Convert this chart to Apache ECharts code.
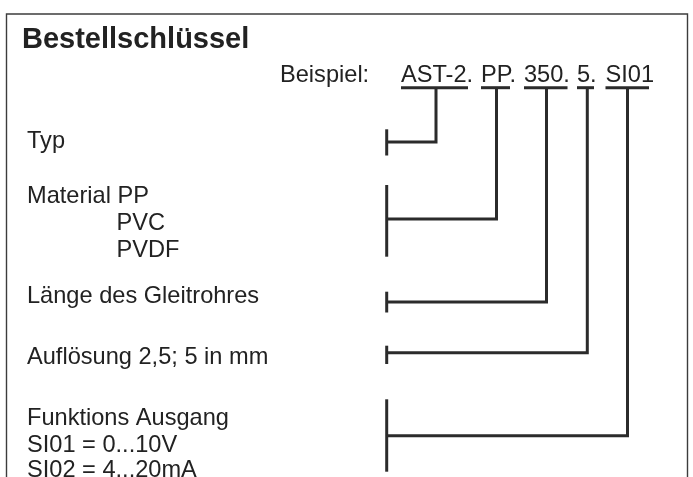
<!DOCTYPE html>
<html><head><meta charset="utf-8">
<script src="https://cdn.jsdelivr.net/npm/echarts@6/dist/echarts.min.js"></script>
<style>html,body{margin:0;padding:0;background:#fff}#c{width:693px;height:477px}</style>
</head><body><div id="c"></div>
<script>
// ---- diagram data (diagram units) ----
const titleText = 'Bestellschlüssel';
const exampleLabel = 'Beispiel:';
const codeParts = ['AST-2.', 'PP.', '350.', '5.', 'SI01'];
const codeStart = [401, 481, 524, 577, 605.5];
const underlineEnd = [468, 510, 567.5, 594, 649];
const connectorX = [436, 496.5, 546.5, 587.3, 627.5];
const rowTexts = [
  ['Typ'],
  ['Material PP', 'PVC', 'PVDF'],
  ['Länge des Gleitrohres'],
  ['Auflösung 2,5; 5 in mm'],
  ['Funktions Ausgang', 'SI01 = 0...10V', 'SI02 = 4...20mA']
];
const rowTextIndent = [[0], [0, 1, 1], [0], [0], [0, 0, 0]];
const rowBaseline = [[149.3], [204.3, 231, 258.3], [303.5], [365], [426, 452.5, 478]];
const bracketTop = [129.3, 185, 291.7, 345.7, 399.3];
const bracketBottom = [155.5, 256.7, 312.5, 364, 471.7];
const bracketLinkY = [142, 219, 302, 352.7, 435.7];

// ---- layout constants ----
const W = 693, H = 477;
const textX = 27, indentX = 116.5;
const bracketX = 386.7, underlineY = 87.7, codeBaseline = 83.3;
const exampleX = 280, titleX = 22, titleBaseline = 49.3;
const FONT = "'Liberation Sans', Arial, Helvetica, sans-serif";
const INK = '#222222', LINE = '#2b2b2b';
const bodySize = 23.6, titleSize = 29;

function mid(baseline, fs) { return baseline - 0.31 * fs; }

// text items
const textItems = [];
textItems.push([titleX, titleBaseline, titleText, 1]);
textItems.push([exampleX, codeBaseline, exampleLabel, 0]);
codeParts.forEach((t, i) => textItems.push([codeStart[i], codeBaseline, t, 0]));
rowTexts.forEach((lines, r) => lines.forEach((t, k) => {
  textItems.push([rowTextIndent[r][k] ? indentX : textX, rowBaseline[r][k], t, 0]);
}));

const rowItems = connectorX.map((cx, i) => [cx, bracketLinkY[i], bracketTop[i], bracketBottom[i], codeStart[i], underlineEnd[i]]);

const chart = echarts.init(document.getElementById('c'), null, {renderer: 'canvas'});
chart.setOption({
  backgroundColor: '#fff',
  animation: false,
  grid: {left: 0, right: 0, top: 0, bottom: 0},
  xAxis: {type: 'value', min: 0, max: W, show: false},
  yAxis: {type: 'value', min: 0, max: H, inverse: true, show: false},
  graphic: [{
    type: 'rect', shape: {x: 6.5, y: 14, width: 681, height: 520},
    style: {fill: 'none', stroke: '#3c3c3c', lineWidth: 1.4}, silent: true
  }],
  series: [
    {
      type: 'custom',
      coordinateSystem: 'cartesian2d',
      data: rowItems,
      silent: true,
      renderItem: function (params, api) {
        const cx = api.value(0), ly = api.value(1), bt = api.value(2), bb = api.value(3), us = api.value(4), ue = api.value(5);
        const pBT = api.coord([bracketX, bt]), pBB = api.coord([bracketX, bb]);
        const pL = api.coord([bracketX, ly]), pC = api.coord([cx, ly]), pU = api.coord([cx, underlineY]);
        const pUS = api.coord([us, underlineY]), pUE = api.coord([ue, underlineY]);
        const st = {stroke: LINE, lineWidth: 3, fill: 'none', lineJoin: 'miter', lineCap: 'butt'};
        return {
          type: 'group',
          children: [
            {type: 'line', shape: {x1: pBT[0], y1: pBT[1], x2: pBB[0], y2: pBB[1]}, style: st},
            {type: 'polyline', shape: {points: [pL, pC, pU]}, style: st},
            {type: 'line', shape: {x1: pUS[0], y1: pUS[1], x2: pUE[0], y2: pUE[1]}, style: st}
          ]
        };
      }
    },
    {
      type: 'custom',
      coordinateSystem: 'cartesian2d',
      data: textItems,
      silent: true,
      renderItem: function (params, api) {
        const item = textItems[params.dataIndex];
        const bold = item[3] === 1;
        const fs = bold ? titleSize : bodySize;
        const p = api.coord([item[0], mid(item[1], fs)]);
        return {
          type: 'text',
          x: p[0], y: p[1],
          style: {
            text: item[2],
            fill: INK,
            font: (bold ? 'bold ' : '') + fs + 'px ' + FONT,
            align: 'left',
            verticalAlign: 'middle'
          }
        };
      }
    }
  ]
});
</script>
</body></html>
